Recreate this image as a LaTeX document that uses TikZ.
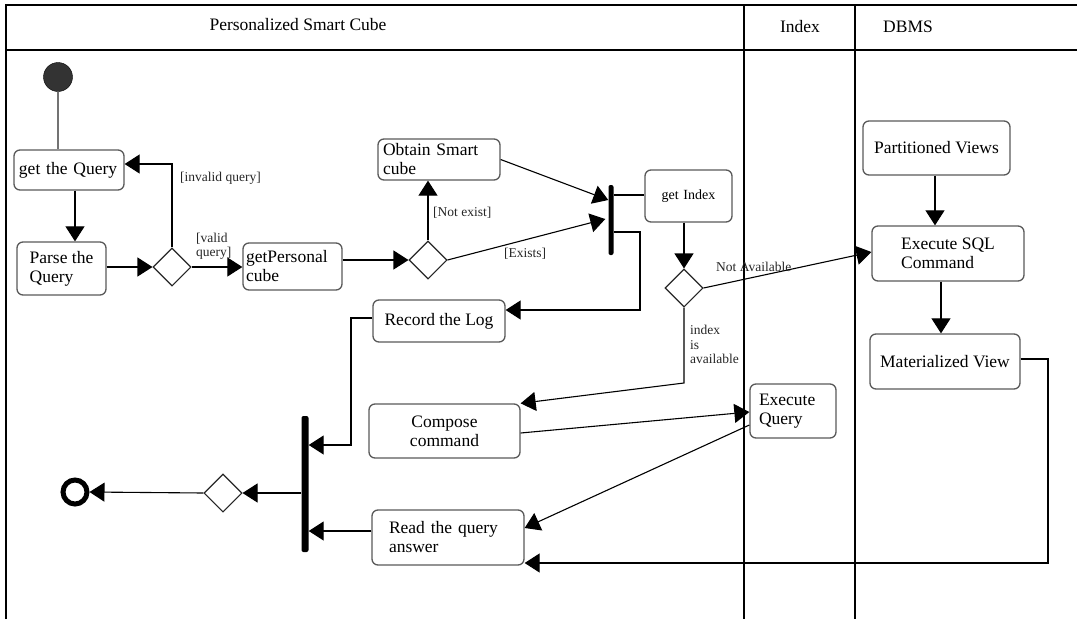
\documentclass[tikz,border=0pt]{standalone}
\usepackage{fontspec}
\setmainfont{Liberation Serif}
\usetikzlibrary{shapes.geometric,arrows.meta}

\begin{document}
\begin{tikzpicture}[x=1pt,y=-1pt,
  box/.style={draw=black!65, line width=1.3pt, rounded corners=6pt, inner ysep=2pt,
              font=\fontsize{17.5}{19}\selectfont},
  dec/.style={diamond, draw=black!85, line width=1.1pt, minimum width=38pt,
              minimum height=38pt, inner sep=0pt},
  bar/.style={fill=black, rounded corners=2pt, inner sep=0pt},
  arr/.style={draw, line width=1.1pt, -{Triangle[length=15pt,width=19pt]}},
  flow/.style={draw, line width=1.1pt},
  guard/.style={font=\fontsize{13.5}{14.5}\selectfont, text=black!85, inner sep=0pt},
  lane/.style={line width=1.3pt},
  head/.style={font=\fontsize{17.5}{19}\selectfont}
]
\useasboundingbox (0,0) rectangle (1077,619);

% swimlane frame
\draw[lane] (6,619) -- (6,5) -- (1077,5);
\draw[lane] (6,50) -- (1077,50);
\draw[lane] (744,5) -- (744,619);
\draw[lane] (855,5) -- (855,619);
\node[head] (hpsc) at (298,25) {Personalized Smart Cube};
\node[head] (hidx) at (800,27) {Index};
\node[head] (hdb) at (908,27) {DBMS};

% start / end
\node[circle, fill=black!80, draw=black, minimum size=29pt, inner sep=0pt] (init) at (58,77) {};
\node[circle, draw=black, line width=5pt, minimum size=24pt, inner sep=0pt] (final) at (75,492) {};

% actions
\node[box, minimum height=40pt, text width=100pt, inner xsep=5pt, align=left] (getq) at (69,170) {get the Query};
\node[box, minimum width=89pt, minimum height=53pt, align=left] (parse) at (61.5,268.5) {Parse the\\Query};
\node[box, minimum height=47pt, text width=93pt, inner xsep=3pt, align=left] (gp) at (292.5,266.5) {getPersonal\\cube};
\node[box, minimum height=41pt, text width=112pt, inner xsep=5pt, inner ysep=0pt, align=left] (obtain) at (439,159.5) {Obtain Smart\\cube};
\node[box, minimum height=52pt, text width=79pt, inner xsep=4pt, align=center,
      font=\fontsize{14}{15}\selectfont] (getidx) at (688.5,196) {get Index};
\node[box, minimum width=132pt, minimum height=42pt, align=center] (record) at (439,321) {Record the Log};
\node[box, minimum width=151pt, minimum height=54pt, align=center] (compose) at (444.5,431) {Compose\\command};
\node[box, minimum height=55pt, text width=118pt, inner xsep=17pt, align=left] (readq) at (448,537.5) {Read the query\\answer};
\node[box, minimum height=54pt, text width=68pt, inner xsep=9pt, align=left] (execq) at (793,411) {Execute\\Query};
\node[box, minimum width=147pt, minimum height=54pt, align=center] (partv) at (936.5,148) {Partitioned Views};
\node[box, minimum width=152pt, minimum height=55pt, align=left] (execsql) at (948,253.5) {Execute SQL\\Command};
\node[box, minimum width=150pt, minimum height=55pt, align=center] (matv) at (945,361.5) {Materialized View};

% decisions
\node[dec] (d1) at (172,267) {};
\node[dec] (d2) at (428,260) {};
\node[dec] (d3) at (684,288) {};
\node[dec] (d4) at (223,493) {};

% fork / join bars
\node[bar, minimum width=5pt, minimum height=70pt] (bar1) at (611,220) {};
\node[bar, minimum width=7pt, minimum height=136pt] (bar2) at (305,484) {};

% bend points
\coordinate (k1) at (640,232);
\coordinate (k2) at (640,310);
\coordinate (k3) at (351,318);
\coordinate (k4) at (351,445);
\coordinate (k5) at (684,383);
\coordinate (k6) at (1048,359);
\coordinate (k7) at (1048,563);

% flows
\draw[line width=1.2pt, draw=black!55] (init.south) -- (init.south |- getq.north);
\draw[arr] (getq.south -| 75,0) -- (parse.north -| 75,0);
\draw[arr] (parse.east |- d1) -- (d1.west);
\draw[arr] (d1.north) |- ([yshift=6pt]getq.east);
\draw[arr] (d1.east) -- (gp.west |- d1);
\draw[arr] (gp.east |- d2) -- (d2.west);
\draw[arr] (d2.north) -- (obtain.south -| d2);
\draw[arr] (obtain.east) -- ([yshift=20pt]bar1.west);
\draw[arr] (d2.east) -- ([yshift=1pt,xshift=-3pt]bar1.west);
\draw[flow] (bar1.east |- 0,195) -- (getidx.west |- 0,195);
\draw[arr] (bar1.east |- k1) -- (k1) -- (k2) -- (record.east |- k2);
\draw[arr] (getidx.south -| d3) -- (d3.north);
\draw[arr] (d3.east) -- (execsql.west |- 0,252);
\draw[arr] (d3.south) -- (k5) -- (compose.north east);
\draw[arr] (record.west |- k3) -- (k3) -- (k4) -- (bar2.east |- k4);
\draw[arr] (compose.east |- 0,433) -- (execq.west |- 0,412);
\draw[arr] (execq.west |- 0,425) -- (readq.east |- 0,528);
\draw[arr] (readq.west |- 0,531) -- (bar2.east |- 0,531);
\draw[arr] (bar2.west |- d4) -- (d4.east);
\draw[arr] (d4.west) -- (final.east);
\draw[arr] (partv.south -| 935,0) -- (execsql.north -| 935,0);
\draw[arr] (execsql.south -| 941,0) -- (matv.north -| 941,0);
\draw[arr] (matv.east |- k6) -- (k6) -- (k7) -- (readq.east |- k7);

% guards
\node[guard, anchor=west] (ginv) at (180,178) {[invalid query]};
\node[guard, anchor=south west, align=left] (gval) at (196,260) {[valid\\query]};
\node[guard, anchor=west] (gnot) at (433,213) {[Not exist]};
\node[guard, anchor=west] (gex) at (504,254) {[Exists]};
\node[guard, anchor=west] (gna) at (716,267) {Not Available};
\node[guard, anchor=north west, align=left] (gia) at (690,325) {index\\is\\available};
\end{tikzpicture}
\end{document}
